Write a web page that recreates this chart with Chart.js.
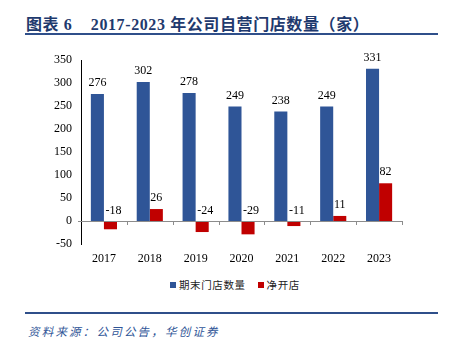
<!DOCTYPE html>
<html>
<head>
<meta charset="utf-8">
<script src="https://cdn.jsdelivr.net/npm/chart.js@4.4.0/dist/chart.umd.min.js"></script>
<style>
  body { margin: 0; width: 450px; height: 342px; background: #fff; position: relative; overflow: hidden; }
  .titulo { position: absolute; left: 26px; top: 11px; font: bold 16px "Liberation Serif", "Noto Sans CJK SC", serif; color: #1F3A6E; white-space: nowrap; letter-spacing: 0.6px; }
  .linha { position: absolute; left: 25px; width: 413px; height: 2px; background: #2F4F8A; }
  .fonte { position: absolute; left: 28px; top: 323px; font: italic 11.5px "Noto Sans CJK SC", sans-serif; color: #2F5597; letter-spacing: 2.2px; white-space: nowrap; }
  #grafico { position: absolute; left: 0; top: 40px; }
  .legenda { position: absolute; top: 277px; left: 170px; font: 10.5px "Noto Sans CJK SC", sans-serif; color: #222; letter-spacing: 0.6px; white-space: nowrap; }
  .legenda span.box { display: inline-block; width: 6px; height: 6px; margin-right: 3px; vertical-align: 1px; }
</style>
</head>
<body>
<div class="titulo">图表 6&nbsp;&nbsp;&nbsp;&nbsp;2017-2023 年公司自营门店数量（家）</div>
<div class="linha" style="top:33px"></div>
<canvas id="grafico" width="450" height="230"></canvas>
<div class="legenda" id="legenda"></div>
<div class="linha" style="top:312px"></div>
<div class="fonte">资料来源：公司公告，华创证券</div>

<script>
// dados do gráfico
const anos = ['2017', '2018', '2019', '2020', '2021', '2022', '2023'];
const lojasFimPeriodo = [276, 302, 278, 249, 238, 249, 331];
const aberturaLiquida = [-18, 26, -24, -29, -11, 11, 82];
const nomesSeries = ['期末门店数量', '净开店'];
const coresSeries = ['#2F5597', '#C00000'];
const ticksY = { min: -50, max: 350, step: 50 };

// legenda em HTML
const legenda = document.getElementById('legenda');
legenda.innerHTML = nomesSeries.map((nome, i) =>
    `<span class="box" style="background:${coresSeries[i]}"></span>${nome}` +
    (i < nomesSeries.length - 1 ? '<span style="display:inline-block;width:12px"></span>' : '')
).join('');

// rótulos de valor e linha do zero
const pluginExtras = {
    id: 'extras',
    afterDatasetsDraw(chart) {
        const ctx = chart.ctx;
        const x = chart.scales.x;
        const y = chart.scales.y;
        const y0 = y.getPixelForValue(0);

        // linha do zero com marcas entre categorias
        ctx.save();
        ctx.strokeStyle = '#8c8c8c';
        ctx.lineWidth = 1;
        ctx.beginPath();
        ctx.moveTo(chart.chartArea.left - 3, Math.round(y0) + 0.5);
        ctx.lineTo(chart.chartArea.right, Math.round(y0) + 0.5);
        const larg = x.getPixelForValue(1) - x.getPixelForValue(0);
        for (let i = 0; i < anos.length; i++) {
            const px = Math.round(x.getPixelForValue(i) + larg / 2) + 0.5;
            ctx.moveTo(px, Math.round(y0));
            ctx.lineTo(px, Math.round(y0) + 4);
        }
        ctx.stroke();

        // valores
        ctx.fillStyle = '#000';
        ctx.font = '12px "Liberation Serif", serif';
        ctx.textAlign = 'center';
        ctx.textBaseline = 'bottom';
        chart.data.datasets.forEach((ds, di) => {
            chart.getDatasetMeta(di).data.forEach((bar, i) => {
                const v = ds.data[i];
                const topo = v >= 0 ? bar.y - 5 : y0 - 4;
                const dx = v >= 0 ? 0 : 3;
                ctx.fillText(String(v), bar.x + dx, topo);
            });
        });
        ctx.restore();
    }
};

new Chart(document.getElementById('grafico'), {
    type: 'bar',
    data: {
        labels: anos,
        datasets: [
            { label: nomesSeries[0], data: lojasFimPeriodo, backgroundColor: coresSeries[0] },
            { label: nomesSeries[1], data: aberturaLiquida, backgroundColor: coresSeries[1] }
        ]
    },
    options: {
        responsive: false,
        animation: false,
        devicePixelRatio: 1,
        categoryPercentage: 0.57,
        barPercentage: 1,
        layout: { padding: { top: 20, left: 0, right: 48, bottom: 4 } },
        plugins: { legend: { display: false }, tooltip: { enabled: false } },
        scales: {
            x: {
                grid: { display: false, drawTicks: false },
                border: { display: false },
                ticks: { color: '#000', padding: 8, font: { family: 'Liberation Serif', size: 12 } },
                afterFit(scale) { scale.height = 22; }
            },
            y: {
                min: ticksY.min,
                max: ticksY.max,
                grid: { display: false, drawTicks: true, tickLength: 4, tickColor: '#000' },
                border: { display: true, color: '#000', width: 1 },
                ticks: { stepSize: ticksY.step, color: '#000', padding: 5, font: { family: 'Liberation Serif', size: 12 } },
                afterFit(scale) { scale.width = 81; }
            }
        }
    },
    plugins: [pluginExtras]
});
</script>
</body>
</html>
